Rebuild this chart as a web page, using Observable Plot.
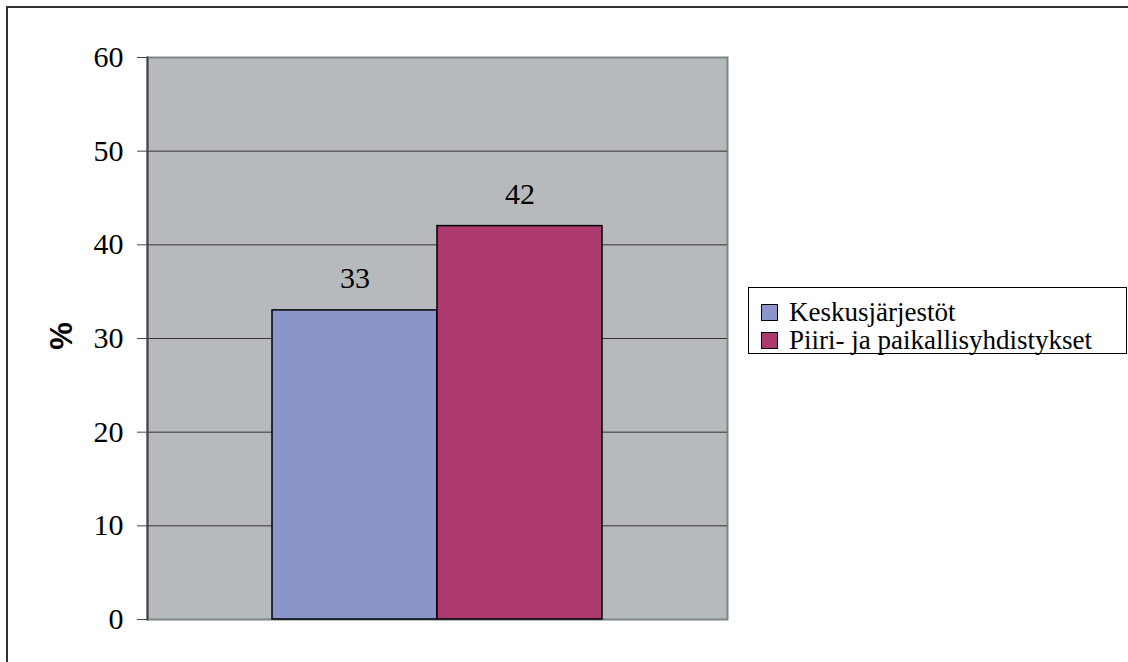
<!DOCTYPE html>
<html><head><meta charset="utf-8">
<script src="https://cdn.jsdelivr.net/npm/d3@7"></script>
<script src="https://cdn.jsdelivr.net/npm/@observablehq/plot@0.6"></script>
<style>
body{margin:0;background:#fff;}
#wrap{position:relative;width:1128px;height:662px;overflow:hidden;background:#fff;}
#border{position:absolute;left:6px;top:6px;width:1300px;height:900px;border:2px solid #333;box-sizing:border-box;}
#chart{position:absolute;left:0;top:0;}
#chart svg text{font-family:"Liberation Serif","Times New Roman",Tinos,"DejaVu Serif",serif !important;}
#ylab{position:absolute;left:61px;top:336px;transform:translate(-50%,-50%) rotate(-90deg);font-weight:bold;font-size:31px;font-family:"Liberation Sans",Arial,sans-serif;color:#000;line-height:1;}
#legend{position:absolute;left:748px;top:287px;width:379px;height:67px;border:1px solid #000;box-sizing:border-box;background:#fff;font-size:27px;font-family:"Liberation Serif","Times New Roman",Tinos,"DejaVu Serif",serif;color:#000;padding-top:10px;}
.li{display:flex;align-items:center;height:28px;line-height:28px;white-space:nowrap;margin-left:12px;}
.sw{width:15px;height:15px;border:1.5px solid #000;margin-right:11px;flex:none;}
</style></head>
<body>
<div id="wrap">
<div id="border"></div>
<div id="chart"></div>
<div id="ylab">%</div>
<div id="legend"></div>
</div>
<script>
const series = ["Keskusjärjestöt", "Piiri- ja paikallisyhdistykset"];
const values = [33, 42];
const colors = ["#8a96c9", "#ad3a6e"];
const yTicks = [0, 10, 20, 30, 40, 50, 60];
const yLabel = "%";

const data = series.map((s, i) => ({s, v: values[i]}));

const chart = Plot.plot({
  width: 1128, height: 662,
  marginLeft: 147, marginRight: 401, marginTop: 57, marginBottom: 43,
  style: {fontSize: "30px", color: "#000", background: "transparent"},
  x: {domain: series, paddingInner: 0, paddingOuter: 0.747, axis: null},
  y: {domain: [0, 60], ticks: yTicks, label: null},
  color: {domain: series, range: colors},
  marks: [
    Plot.frame({fill: "#b7babd", stroke: "#7b8686", strokeWidth: 2}),
    Plot.ruleY(yTicks.filter(d => d > 0 && d < 60), {stroke: "#333", strokeWidth: 1}),
    Plot.barY(data, {x: "s", y: "v", fill: "s", stroke: "#000", strokeWidth: 1.5}),
    Plot.text(data, {x: "s", y: "v", text: d => String(d.v), dy: -32, fontSize: 30}),
    Plot.axisY({ticks: yTicks, tickSize: 10, tickPadding: 14, fontSize: 30, label: null, stroke: "#444"}),
    Plot.frame({anchor: "left", stroke: "#444", strokeWidth: 2})
  ]
});
document.getElementById("chart").appendChild(chart);
document.getElementById("ylab").textContent = yLabel;

const leg = document.getElementById("legend");
series.forEach((s, i) => {
  const row = document.createElement("div");
  row.className = "li";
  const sw = document.createElement("span");
  sw.className = "sw";
  sw.style.background = colors[i];
  const t = document.createElement("span");
  t.textContent = s;
  row.appendChild(sw); row.appendChild(t);
  leg.appendChild(row);
});
</script>
</body></html>
